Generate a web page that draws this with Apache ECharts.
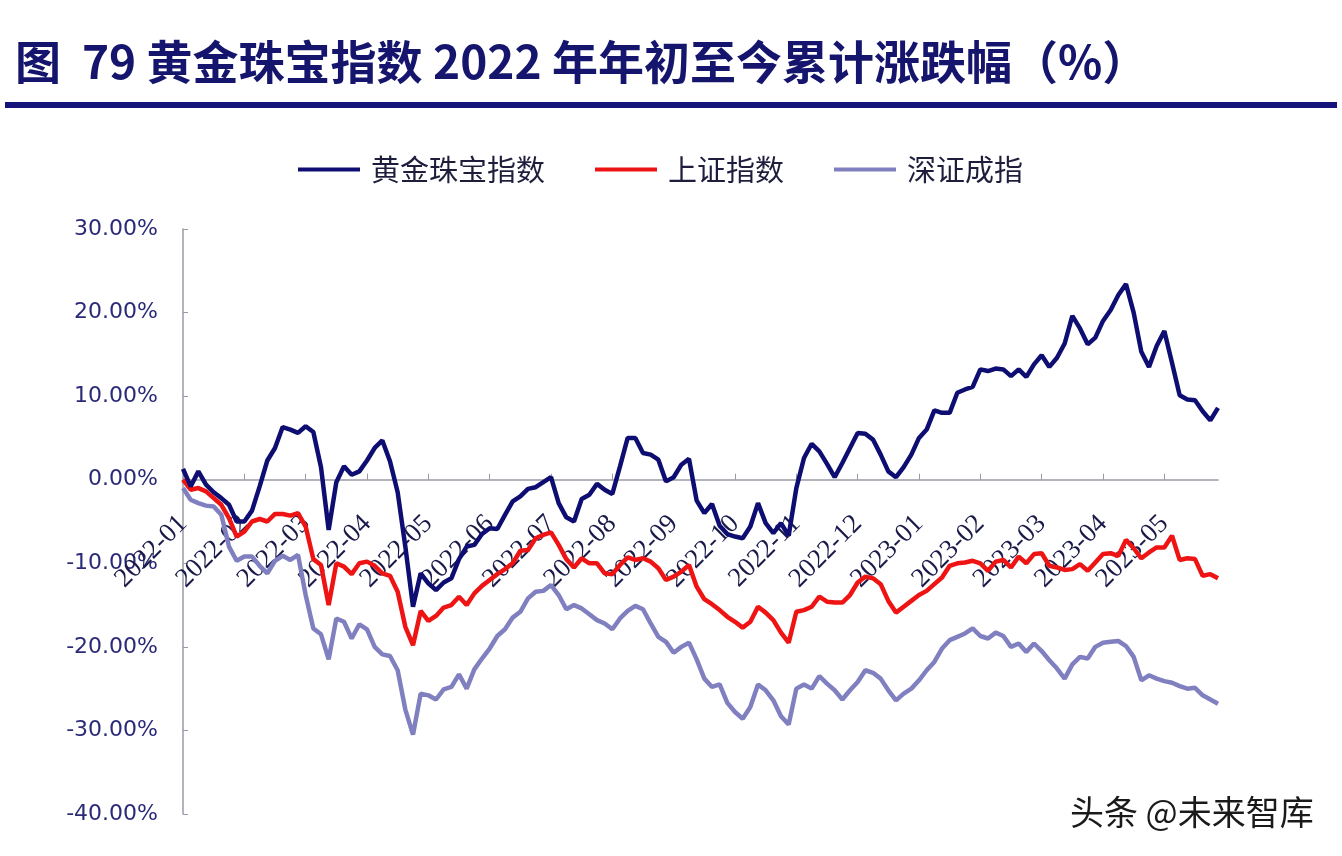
<!DOCTYPE html>
<html>
<head>
<meta charset="utf-8">
<script src="https://cdn.jsdelivr.net/npm/echarts@6/dist/echarts.min.js"></script>
<style>html,body{margin:0;padding:0;background:#fff;}#c{width:1342px;height:856px;}</style>
</head>
<body>
<div id="c"></div>
<script>
// Month tick labels (one every 8 samples)
const monthLabels = ['2022-01','2022-02','2022-03','2022-04','2022-05','2022-06','2022-07','2022-08','2022-09','2022-10','2022-11','2022-12','2023-01','2023-02','2023-03','2023-04','2023-05'];
const seriesNames = ['黄金珠宝指数','上证指数','深证成指'];

const goldJewelry = [
  1.3, -0.8, 1.0, -0.6, -1.5, -2.2, -3.0, -5.0, -5.0, -3.7,
  -0.8, 2.3, 3.8, 6.3, 6.0, 5.6, 6.4, 5.7, 1.5, -6.0,
  -0.3, 1.6, 0.6, 1.0, 2.3, 3.8, 4.7, 2.2, -1.5, -8.0,
  -15.2, -11.2, -12.4, -13.2, -12.3, -11.8, -9.5, -8.0, -7.8, -6.5,
  -5.8, -5.9, -4.2, -2.6, -2.0, -1.1, -0.9, -0.3, 0.3, -2.8,
  -4.5, -5.0, -2.3, -1.8, -0.5, -1.2, -1.7, 1.6, 5.0, 5.0,
  3.2, 3.0, 2.4, -0.2, 0.3, 1.8, 2.5, -2.5, -4.0, -2.9,
  -5.5, -6.5, -6.8, -7.0, -5.6, -2.8, -5.2, -6.4, -5.2, -6.7,
  -1.0, 2.6, 4.3, 3.4, 1.9, 0.3, 2.0, 3.8, 5.6, 5.5,
  4.8, 3.0, 1.0, 0.3, 1.5, 3.0, 5.0, 6.0, 8.3, 8.0,
  8.0, 10.4, 10.8, 11.1, 13.2, 13.0, 13.3, 13.2, 12.4, 13.2,
  12.3, 13.8, 14.9, 13.5, 14.6, 16.3, 19.6, 18.1, 16.2, 17.0,
  19.0, 20.3, 22.1, 23.4, 20.0, 15.3, 13.5, 16.0, 17.8, 14.0,
  10.1, 9.6, 9.5, 8.2, 7.1, 8.6
];
const shanghaiIndex = [
  0, -1.2, -1.0, -1.4, -2.2, -3.0, -4.6, -6.8, -6.2, -5.0,
  -4.7, -5.0, -4.1, -4.1, -4.3, -4.0, -5.6, -9.5, -10.2, -15.0,
  -10.0, -10.4, -11.3, -10.0, -9.8, -10.3, -11.2, -11.5, -13.4, -17.6,
  -19.8, -15.7, -16.9, -16.3, -15.3, -15.0, -14.0, -15.0, -13.6, -12.7,
  -12.0, -11.3, -10.7, -10.0, -8.5, -8.4, -7.0, -6.6, -6.3, -7.8,
  -9.5, -10.5, -9.4, -10.0, -10.0, -11.2, -11.3, -10.2, -9.3, -9.6,
  -9.4, -9.8, -10.6, -12.0, -11.6, -11.0, -10.2, -12.8, -14.3, -14.9,
  -15.6, -16.4, -17.0, -17.7, -17.0, -15.2, -15.9, -16.8, -18.3, -19.5,
  -15.8, -15.6, -15.2, -14.0, -14.6, -14.7, -14.7, -13.8, -12.3, -11.6,
  -11.8, -12.5, -14.5, -15.9, -15.2, -14.5, -13.8, -13.3, -12.5, -11.7,
  -10.3, -10.0, -9.9, -9.7, -10.0, -10.9, -9.8, -9.6, -10.5, -9.2,
  -10.0, -8.9, -8.8, -10.3, -10.5, -10.8, -10.7, -10.1, -10.9, -9.9,
  -8.9, -8.8, -9.1, -7.2, -8.2, -9.4, -8.7, -8.1, -8.1, -6.7,
  -9.6, -9.4, -9.5, -11.5, -11.3, -11.8
];
const shenzhenIndex = [
  -1.0, -2.4, -2.8, -3.1, -3.2, -4.2, -8.0, -9.7, -9.2, -9.2,
  -10.3, -11.2, -9.7, -9.1, -9.6, -9.0, -13.8, -17.8, -18.5, -21.5,
  -16.6, -17.0, -19.0, -17.3, -17.9, -20.0, -20.9, -21.1, -22.8, -27.5,
  -30.5, -25.6, -25.8, -26.3, -25.1, -24.8, -23.3, -25.0, -22.7, -21.4,
  -20.2, -18.7, -17.9, -16.5, -15.8, -14.2, -13.4, -13.3, -12.6, -13.8,
  -15.5, -15.0, -15.4, -16.1, -16.8, -17.2, -17.9, -16.6, -15.7, -15.1,
  -15.5, -17.2, -18.8, -19.4, -20.7, -20.0, -19.5, -21.5, -23.8, -24.8,
  -24.5, -26.7, -27.8, -28.6, -27.2, -24.5, -25.2, -26.4, -28.3, -29.3,
  -25.0, -24.5, -25.0, -23.5, -24.4, -25.2, -26.3, -25.2, -24.2, -22.8,
  -23.1, -23.8, -25.2, -26.4, -25.6, -25.0, -24.0, -22.8, -21.8, -20.2,
  -19.2, -18.8, -18.4, -17.8, -18.7, -19.0, -18.3, -18.7, -20.0, -19.6,
  -20.6, -19.6, -20.5, -21.6, -22.6, -23.8, -22.1, -21.2, -21.4, -20.0,
  -19.5, -19.4, -19.3, -19.9, -21.2, -24.0, -23.4, -23.8, -24.1, -24.3,
  -24.7, -25.0, -24.9, -25.8, -26.3, -26.8
];
const samplesPerMonth = 8;
const sampleIndex = goldJewelry.map((_, i) => i);
const yMin = -40, yMax = 30;

const gridTop = 229, gridBottom = 42, chartH = 856;
// axis sits on the 0% line: shift it up from the grid bottom
const plotH = chartH - gridTop - gridBottom;
const zeroOffset = -plotH * (0 - yMin) / (yMax - yMin);

const chart = echarts.init(document.getElementById('c'), null, {renderer: 'canvas'});
chart.setOption({
  backgroundColor: '#ffffff',
  animation: false,
  title: {
    text: '图  79 黄金珠宝指数 2022 年年初至今累计涨跌幅（%）',
    left: 10, top: 34,
    textStyle: {fontSize: 46, fontWeight: 'bold', color: '#15156e', fontFamily: 'Noto Sans CJK SC'}
  },
  graphic: [
    {type: 'rect', shape: {x: 5, y: 102, width: 1332, height: 6}, style: {fill: '#14147a'}},
    {type: 'text', left: 1070, top: 795, style: {text: '头条 @未来智库', fontSize: 34, fill: '#1a1a1a', fontFamily: 'Noto Sans CJK SC', textShadowColor: 'rgba(255,255,255,0.9)', textShadowBlur: 2}}
  ],
  legend: {
    data: seriesNames,
    left: 293, top: 150,
    icon: 'rect', itemWidth: 62, itemHeight: 4, itemGap: 50,
    textStyle: {fontSize: 29, color: '#1e1e3c', fontFamily: 'Noto Sans CJK SC', padding: [0, 0, 0, 6]}
  },
  grid: {left: 183, right: 124, top: gridTop, bottom: gridBottom, containLabel: false, outerBoundsMode: 'none'},
  xAxis: {
    type: 'category',
    data: sampleIndex,
    boundaryGap: false,
    offset: zeroOffset,
    axisLine: {onZero: false, lineStyle: {color: '#9a9aa6', width: 1.5}},
    axisTick: {inside: true, length: 6, interval: samplesPerMonth - 1, lineStyle: {color: '#9a9aa6'}},
    axisLabel: {
      interval: samplesPerMonth - 1, rotate: 45, margin: 40,
      fontSize: 27, color: '#1a1a4a', fontFamily: 'Liberation Serif',
      formatter: (v) => monthLabels[Math.round(v / samplesPerMonth)] || ''
    },
    splitLine: {show: false}
  },
  yAxis: {
    type: 'value', min: yMin, max: yMax, interval: 10,
    axisLine: {show: true, lineStyle: {color: '#9a9aa6', width: 1.5}},
    axisTick: {show: true, inside: true, length: 5, lineStyle: {color: '#9a9aa6'}},
    axisLabel: {margin: 25, fontSize: 22, color: '#2a2a78', fontFamily: 'DejaVu Sans', formatter: (v) => v.toFixed(2) + '%'},
    splitLine: {show: false}
  },
  series: [
    {name: seriesNames[0], type: 'line', data: goldJewelry, showSymbol: false, symbol: 'none', z: 4, lineStyle: {width: 4.5, color: '#0e0e72'}, itemStyle: {color: '#0e0e72'}},
    {name: seriesNames[1], type: 'line', data: shanghaiIndex, showSymbol: false, symbol: 'none', z: 3, lineStyle: {width: 4.5, color: '#ee1414'}, itemStyle: {color: '#ee1414'}},
    {name: seriesNames[2], type: 'line', data: shenzhenIndex, showSymbol: false, symbol: 'none', z: 2, lineStyle: {width: 4.5, color: '#8080c0'}, itemStyle: {color: '#8080c0'}}
  ]
});
</script>
</body>
</html>
